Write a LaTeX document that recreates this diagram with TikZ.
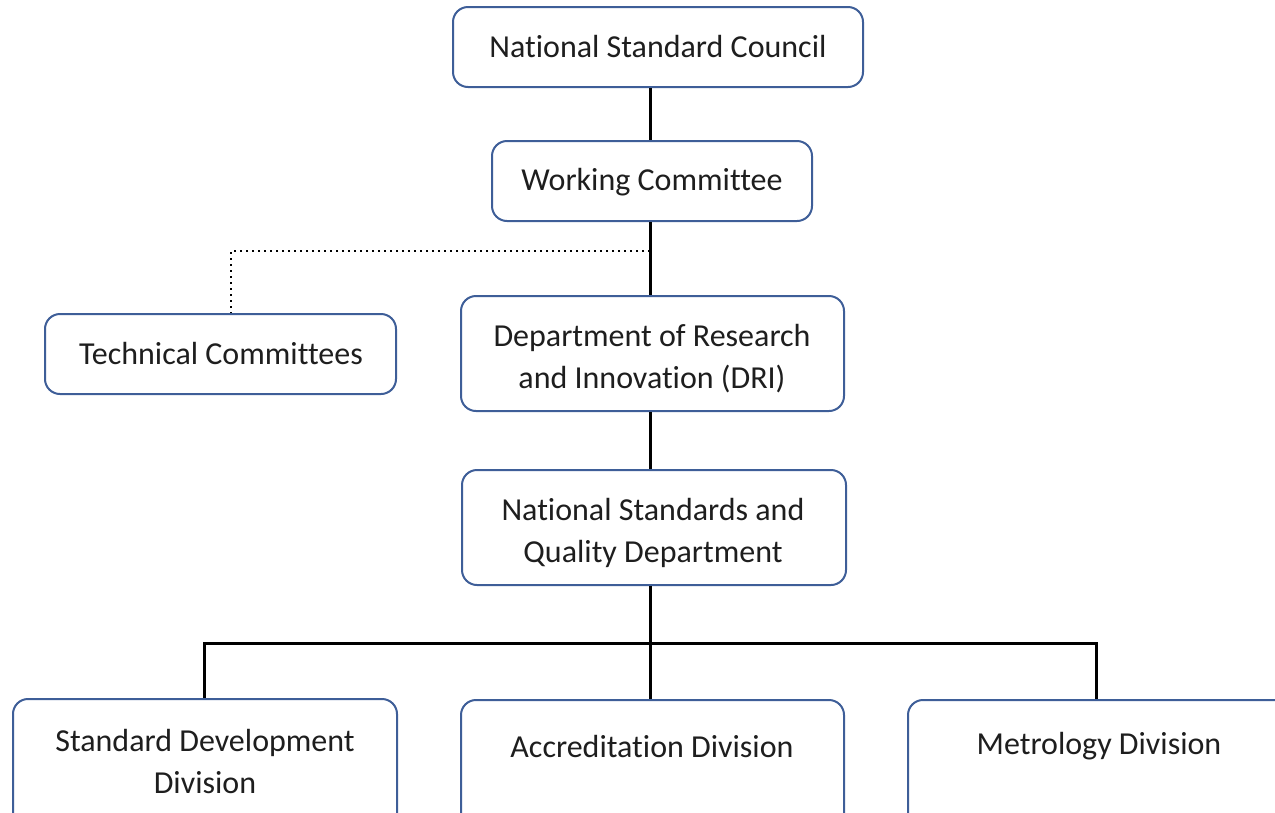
\documentclass[tikz,border=0pt]{standalone}
\usepackage{fontspec}
\setmainfont{Carlito}[Ligatures=NoCommon]
\definecolor{boxblue}{RGB}{62,94,152}
\definecolor{txt}{RGB}{30,30,30}
\begin{document}
\begin{tikzpicture}[x=1pt,y=-1pt,
  box/.style={draw=boxblue, line width=2pt, rounded corners=15pt, fill=white, inner sep=0pt},
  lbl/.style={font=\fontsize{32}{42}\selectfont, text=txt, align=center, inner sep=0pt},
  conn/.style={line width=3pt, black},
  dots/.style={line width=2.4pt, dash pattern=on 2.4pt off 3.6pt, black}]
\useasboundingbox (0,0) rectangle (1275,812);
% boxes
\node[box, minimum width=410pt, minimum height=80pt] (nsc) at (658,47) {};
\node[lbl] (nsct) at (658,47) {National Standard Council};
\node[box, minimum width=320pt, minimum height=80pt] (wc) at (652,181) {};
\node[lbl] (wct) at (652,182) {Working Committee};
\node[box, minimum width=351pt, minimum height=80pt] (tc) at (220.5,354) {};
\node[lbl] (tct) at (221,354) {Technical Committees};
\node[box, minimum width=383pt, minimum height=115pt] (dri) at (652.5,353.5) {};
\node[lbl] (drit) at (652,359) {Department of Research\\and Innovation (DRI)};
\node[box, minimum width=384pt, minimum height=115pt] (nsq) at (654,527.5) {};
\node[lbl] (nsqt) at (653,533) {National Standards and\\Quality Department};
\node[box, minimum width=384pt, minimum height=130pt, anchor=north] (sdd) at (205,698) {};
\node[lbl] (sddt) at (205,761) {Standard Development\\Division};
\node[box, minimum width=383pt, minimum height=130pt, anchor=north] (ad) at (652.5,699) {};
\node[lbl] (adt) at (652,746) {Accreditation Division};
\node[box, minimum width=384pt, minimum height=130pt, anchor=north] (md) at (1100,699) {};
\node[lbl] (mdt) at (1099,746) {Metrology Division};
% connectors
\coordinate (j1) at (650,251);
\coordinate (j2) at (650,643);
\draw[conn] (nsc.south -| 650,0) -- (wc.north -| 650,0);
\draw[conn] (wc.south -| 650,0) -- (dri.north -| 650,0);
\draw[dots] (j1) -| (tc.north -| 231,0);
\draw[conn] (dri.south -| 650,0) -- (nsq.north -| 650,0);
\draw[conn] (nsq.south -| 650,0) -- (ad.north -| 650,0);
\draw[conn] (sdd.north -| 204,0) |- (j2) -| (md.north -| 1096,0);
\end{tikzpicture}
\end{document}
